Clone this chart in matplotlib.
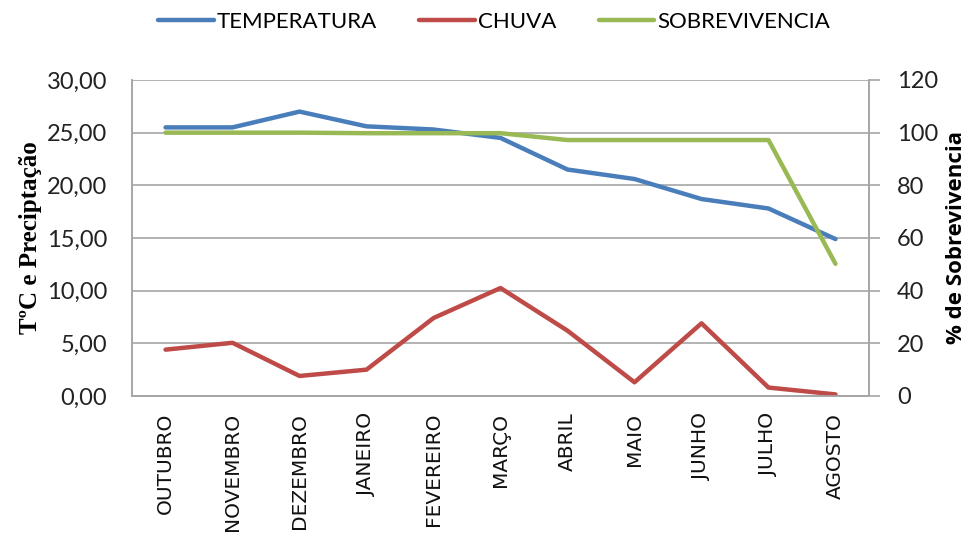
import numpy as np
import matplotlib
matplotlib.use("Agg")
import matplotlib.pyplot as plt

meses = ["OUTUBRO", "NOVEMBRO", "DEZEMBRO", "JANEIRO", "FEVEREIRO", "MARÇO",
         "ABRIL", "MAIO", "JUNHO", "JULHO", "AGOSTO"]
temperatura = [25.5, 25.5, 27.0, 25.6, 25.3, 24.5, 21.5, 20.6, 18.7, 17.8, 14.9]
chuva = [4.4, 5.05, 1.9, 2.5, 7.4, 10.25, 6.2, 1.3, 6.9, 0.8, 0.15]
sobrevivencia = [100, 100, 100, 99.8, 99.8, 99.8, 97.2, 97.2, 97.2, 97.2, 50.2]

left_ticks = np.arange(0, 31, 5)
right_ticks = np.arange(0, 121, 20)

c_temp = "#4a7ebb"
c_chuva = "#be4b48"
c_sob = "#98b954"
grid_c = "#a6a6a6"

fig = plt.figure(figsize=(9.73, 5.42), dpi=100)
ax = fig.add_axes([0.1357, 0.2694, 0.7574, 0.583])
ax2 = ax.twinx()

x = np.arange(len(meses))
l1, = ax.plot(x, temperatura, color=c_temp, lw=3.2, solid_capstyle="round", zorder=3)
l2, = ax.plot(x, chuva, color=c_chuva, lw=3.2, solid_capstyle="round", zorder=3)
l3, = ax2.plot(x, sobrevivencia, color=c_sob, lw=3.2, solid_capstyle="round", zorder=3)

ax.set_xlim(-0.5, len(meses) - 0.5)
ax.set_ylim(0, 30)
ax2.set_ylim(0, 120)
ax.set_yticks(left_ticks)
ax.set_yticklabels([f"{v:.2f}".replace(".", ",") for v in left_ticks],
                   fontsize=17, family="Lato", color="#222222")
ax2.set_yticks(right_ticks)
ax2.set_yticklabels([str(v) for v in right_ticks], fontsize=17, family="Lato",
                    color="#222222")
ax.set_xticks(x)
ax.set_xticklabels(meses, rotation=90, fontsize=14.5, family="DejaVu Sans",
                   color="#111111")

ax.yaxis.grid(True, color=grid_c, lw=1.2)
ax.set_axisbelow(True)
for a in (ax, ax2):
    a.spines["top"].set_visible(False)
    for s in ("left", "right", "bottom"):
        a.spines[s].set_color(grid_c)
        a.spines[s].set_linewidth(1.2)
ax.tick_params(axis="y", length=0, pad=18)
ax.tick_params(axis="x", length=0, pad=12)
ax2.tick_params(axis="y", length=8, color=grid_c, width=1.2, pad=12)

ax.set_ylabel("T\u00baC e Preciptação", family="Liberation Serif", fontweight="bold",
              fontsize=18, labelpad=3)
ax2.set_ylabel("% de Sobrevivencia", family="Open Sans", fontweight="bold",
               fontsize=16, labelpad=6)

fig.legend([l1, l2, l3], ["TEMPERATURA", "CHUVA", "SOBREVIVENCIA"],
           loc="upper center", bbox_to_anchor=(0.508, 1.015), ncol=3, frameon=False,
           prop={"family": "Lato", "size": 16}, handlelength=2.5,
           handletextpad=0.15, columnspacing=1.9)

fig.savefig("out.png", dpi=100)
